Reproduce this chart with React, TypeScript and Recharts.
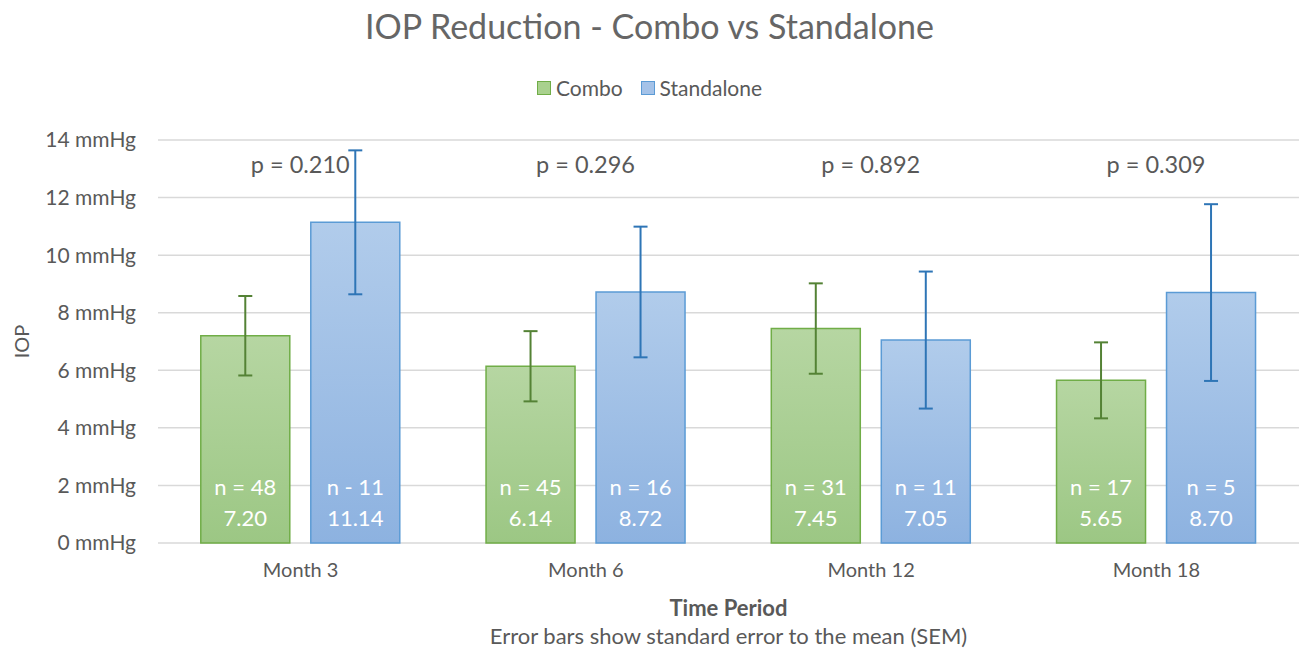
import * as React from "react";
import { BarChart, Bar, XAxis, YAxis, CartesianGrid, ErrorBar, LabelList, Legend } from "recharts";

const categories = ["Month 3", "Month 6", "Month 12", "Month 18"];
const comboValues = [7.2, 6.14, 7.45, 5.65];
const standaloneValues = [11.14, 8.72, 7.05, 8.7];
const comboSem = [1.38, 1.22, 1.57, 1.32];
const standaloneSem = [2.5, 2.27, 2.38, 3.07];
const comboN = ["n = 48", "n = 45", "n = 31", "n = 17"];
const standaloneN = ["n - 11", "n = 16", "n = 11", "n = 5"];
const pValues = ["p = 0.210", "p = 0.296", "p = 0.892", "p = 0.309"];
const yTicks = [0, 2, 4, 6, 8, 10, 12, 14];

const data = categories.map((name, i) => ({
  name,
  combo: comboValues[i],
  standalone: standaloneValues[i],
  comboSem: comboSem[i],
  standaloneSem: standaloneSem[i],
  comboN: comboN[i],
  standaloneN: standaloneN[i],
  p: pValues[i],
}));

const FONT = "Lato, 'Open Sans', sans-serif";
const GRAY = "#595959";
const BAR_GAP = 21;

// white "n = .." and value text at the bottom of each bar
const makeInside = (nKey: "comboN" | "standaloneN") => (props: any) => {
  const { x, y, width, height, index, value } = props;
  const cx = x + width / 2;
  const bottom = y + height;
  return (
    <g>
      <text x={cx} y={bottom - 48} textAnchor="middle" fill="#fff" fontSize={22} fontFamily={FONT}>
        {data[index][nKey]}
      </text>
      <text x={cx} y={bottom - 17} textAnchor="middle" fill="#fff" fontSize={22} fontFamily={FONT}>
        {Number(value).toFixed(2)}
      </text>
    </g>
  );
};

const pLabel = (props: any) => {
  const { x, index } = props;
  return (
    <text x={x - BAR_GAP / 2} y={173} textAnchor="middle" fill={GRAY} fontSize={23.5} fontFamily={FONT}>
      {data[index].p}
    </text>
  );
};

const renderLegend = () => (
  <div style={{ display: "flex", justifyContent: "center", gap: 18, fontFamily: FONT, fontSize: 21, color: GRAY, lineHeight: "24px" }}>
    {[
      { label: "Combo", fill: "#a9d18e", stroke: "#70ad47" },
      { label: "Standalone", fill: "#a4c2e8", stroke: "#5b9bd5" },
    ].map((it) => (
      <span key={it.label} style={{ display: "flex", alignItems: "center", gap: 5 }}>
        <span style={{ width: 12, height: 12, background: it.fill, border: `1.5px solid ${it.stroke}` }} />
        {it.label}
      </span>
    ))}
  </div>
);

export default function App() {
  return (
    <div style={{ position: "absolute", left: 0, top: 0, width: 1299, height: 650, background: "#fff" }}>
      <div
        style={{
          position: "absolute",
          top: 5,
          width: "100%",
          textAlign: "center",
          fontFamily: FONT,
          fontSize: 34,
          color: "#666",
        }}
      >
        IOP Reduction - Combo vs Standalone
      </div>
      <BarChart
        width={1299}
        height={650}
        data={data}
        margin={{ top: 116, right: 0, bottom: 77, left: 0 }}
        barCategoryGap="15%"
        barGap={BAR_GAP}
      >
        <defs>
          <linearGradient id="gCombo" x1="0" y1="0" x2="0" y2="1">
            <stop offset="0%" stopColor="#b6d6a2" />
            <stop offset="100%" stopColor="#9cc784" />
          </linearGradient>
          <linearGradient id="gStand" x1="0" y1="0" x2="0" y2="1">
            <stop offset="0%" stopColor="#b1cceb" />
            <stop offset="100%" stopColor="#8db2e0" />
          </linearGradient>
        </defs>
        <CartesianGrid vertical={false} stroke="#d9d9d9" strokeWidth={1.5} />
        <Legend verticalAlign="top" content={renderLegend} wrapperStyle={{ top: 76 }} />
        <XAxis
          dataKey="name"
          axisLine={false}
          tickLine={false}
          tick={{ fill: GRAY, fontSize: 20, fontFamily: FONT }}
          tickMargin={14}
          label={{
            content: (p: any) => {
              const { x, y, width } = p.viewBox;
              const cx = x + width / 2;
              return (
                <g fontFamily={FONT} fill={GRAY} textAnchor="middle">
                  <text x={cx} y={y + 73} fontSize={22} fontWeight="bold">Time Period</text>
                  <text x={cx} y={y + 101} fontSize={22}>Error bars show standard error to the mean (SEM)</text>
                </g>
              );
            },
          }}
        />
        <YAxis
          width={158}
          domain={[0, 14]}
          ticks={yTicks}
          axisLine={false}
          tickLine={false}
          tickMargin={16}
          tickFormatter={(v: number) => `${v} mmHg`}
          tick={{ fill: GRAY, fontSize: 21, fontFamily: FONT }}
          label={{
            content: (p: any) => {
              const { y, height } = p.viewBox;
              const cy = y + height / 2;
              return (
                <text
                  x={29}
                  y={cy}
                  transform={`rotate(-90 29 ${cy})`}
                  textAnchor="middle"
                  fill={GRAY}
                  fontSize={20}
                  fontFamily={FONT}
                >
                  IOP
                </text>
              );
            },
          }}
        />
        <Bar dataKey="combo" name="Combo" fill="url(#gCombo)" stroke="#70ad47" strokeWidth={1.5} isAnimationActive={false}>
          <ErrorBar dataKey="comboSem" width={7} stroke="#548235" strokeWidth={2} direction="y" />
          <LabelList dataKey="combo" content={makeInside("comboN")} />
        </Bar>
        <Bar dataKey="standalone" name="Standalone" fill="url(#gStand)" stroke="#5b9bd5" strokeWidth={1.5} isAnimationActive={false}>
          <ErrorBar dataKey="standaloneSem" width={7} stroke="#2e75b6" strokeWidth={2} direction="y" />
          <LabelList dataKey="standalone" content={makeInside("standaloneN")} />
          <LabelList dataKey="p" content={pLabel} />
        </Bar>
      </BarChart>
    </div>
  );
}
